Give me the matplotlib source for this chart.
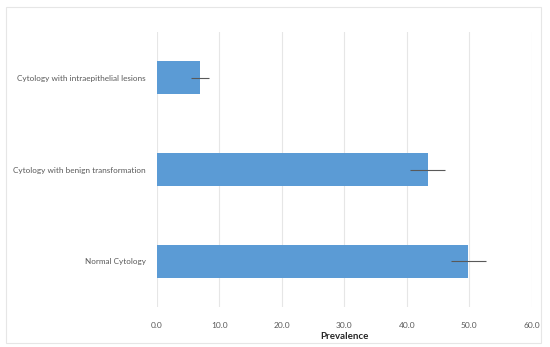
import matplotlib
matplotlib.use("Agg")
import matplotlib.pyplot as plt
from matplotlib.patches import Rectangle

categories = ["Normal Cytology", "Cytology with benign transformation",
              "Cytology with intraepithelial lesions"]
prevalence = [49.8, 43.3, 6.9]
errors = [2.8, 2.85, 1.45]
xticks = [0, 10, 20, 30, 40, 50, 60]

plt.rcParams["font.family"] = ["Lato", "DejaVu Sans"]

fig = plt.figure(figsize=(5.5, 3.47), dpi=100)
ax = fig.add_axes([0.2855, 0.115, 0.6815, 0.793])

ax.barh(categories, prevalence, height=0.36, color="#5B9BD5",
        xerr=errors, error_kw=dict(ecolor="#595959", elinewidth=0.8, capsize=0))

ax.set_xlim(0, 60)
ax.set_ylim(-0.5, 2.5)
ax.set_xticks(xticks)
ax.set_xticklabels([f"{v:.1f}" for v in xticks])
ax.xaxis.grid(True, color="#E6E6E6", linewidth=0.8)
ax.set_axisbelow(True)
for s in ax.spines.values():
    s.set_visible(False)
ax.tick_params(axis="both", length=0, labelsize=6, colors="#595959", pad=11)
ax.tick_params(axis="y", labelsize=5.9, pad=8)
ax.set_xlabel("Prevalence", fontsize=7, fontweight="bold", color="#262626", labelpad=2)

fig.patches.append(Rectangle((6 / 550, 4 / 347), 535 / 550, 336 / 347,
                             transform=fig.transFigure, fill=False,
                             edgecolor="#E6E6E6", linewidth=0.8))

fig.savefig("out.png", dpi=100)
